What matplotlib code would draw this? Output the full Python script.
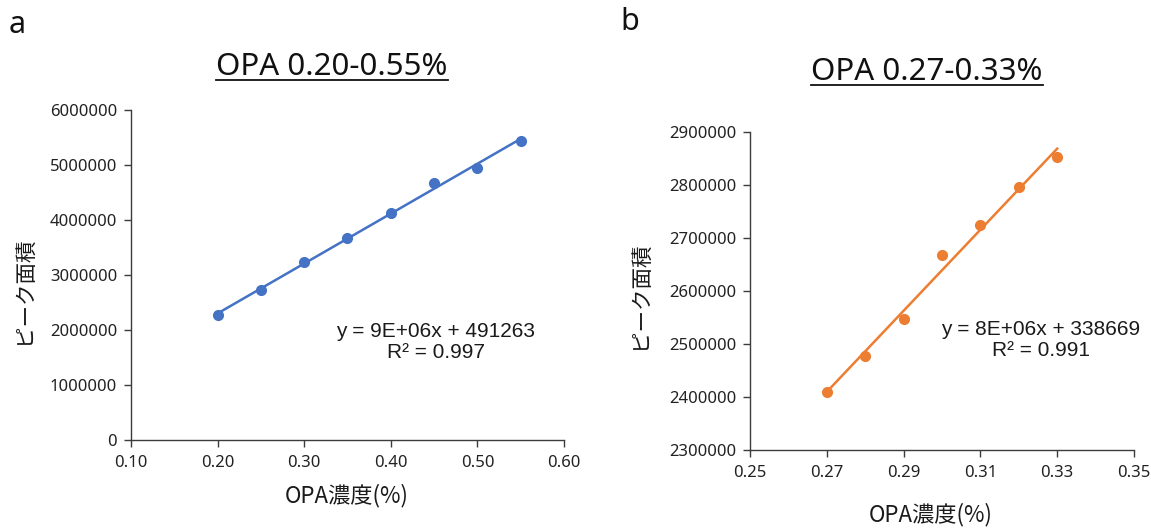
import numpy as np
import matplotlib
matplotlib.use("Agg")
import matplotlib.pyplot as plt
from matplotlib.lines import Line2D

plt.rcParams['font.family'] = ['Noto Sans CJK JP', 'DejaVu Sans']

# ---- data ----
x_a = [0.20, 0.25, 0.30, 0.35, 0.40, 0.45, 0.50, 0.55]
y_a = [2266000, 2727000, 3237000, 3679000, 4134000, 4681000, 4951000, 5436000]
x_b = [0.27, 0.28, 0.29, 0.30, 0.31, 0.32, 0.33]
y_b = [2409700, 2477300, 2547400, 2667300, 2724700, 2795500, 2852300]

title_a = "OPA 0.20-0.55%"
title_b = "OPA 0.27-0.33%"
eq_a = "y = 9E+06x + 491263\nR² = 0.997"
eq_b = "y = 8E+06x + 338669\nR² = 0.991"
xlabel = "OPA濃度(%)"
ylabel = "ピーク面積"
xticks_a = [0.10, 0.20, 0.30, 0.40, 0.50, 0.60]
yticks_a = [0, 1000000, 2000000, 3000000, 4000000, 5000000, 6000000]
xticks_b = [0.25, 0.27, 0.29, 0.31, 0.33, 0.35]
yticks_b = [2300000, 2400000, 2500000, 2600000, 2700000, 2800000, 2900000]

W, H = 1151, 529
fig = plt.figure(figsize=(W / 100, H / 100), dpi=100)
fig.patch.set_facecolor('white')

def fx(px):
    return px / W

def fy(py):
    return 1 - py / H

axis_col = '#3c3c3c'

def make_axes(rect, xs, ys, color, xticks, yticks, xlim, ylim, eq, eqpos):
    ax = fig.add_axes(rect)
    for s in ['top', 'right']:
        ax.spines[s].set_visible(False)
    for s in ['left', 'bottom']:
        ax.spines[s].set_color(axis_col)
        ax.spines[s].set_linewidth(1.0)
    ax.set_xlim(*xlim)
    ax.set_ylim(*ylim)
    ax.set_xticks(xticks)
    ax.set_yticks(yticks)
    ax.set_xticklabels([f"{v:.2f}" for v in xticks], family='Noto Sans')
    ax.set_yticklabels([f"{int(v)}" for v in yticks], family='Noto Sans')
    ax.tick_params(axis='both', direction='out', length=5, width=1.0,
                   color=axis_col, labelsize=12, labelcolor='#222222')
    ax.tick_params(axis='x', pad=6)
    ax.tick_params(axis='y', pad=5)
    # trendline
    k, b = np.polyfit(xs, ys, 1)
    xx = np.array([min(xs), max(xs)])
    ax.plot(xx, k * xx + b, color=color, lw=1.8, zorder=2)
    ax.plot(xs, ys, 'o', color=color, ms=7, zorder=3)
    ax.text(eqpos[0], eqpos[1], eq, transform=fig.transFigure, ha='center',
            va='center', fontsize=15, family='Liberation Sans',
            color='#1a1a1a', linespacing=1.1)
    return ax

ax_a = make_axes([fx(131), fy(440), fx(564 - 131), (440 - 110) / H],
                 x_a, y_a, '#4472C4', xticks_a, yticks_a,
                 (0.10, 0.60), (0, 6000000), eq_a, (fx(436), fy(342)))
ax_b = make_axes([fx(750), fy(450), fx(1134 - 750), (450 - 132) / H],
                 x_b, y_b, '#ED7D31', xticks_b, yticks_b,
                 (0.25, 0.35), (2300000, 2900000), eq_b, (fx(1041), fy(340)))

# axis labels
fig.text(fx(24), fy(290), ylabel, rotation=90, ha='center', va='center',
         fontsize=15.5, color='#1a1a1a')
fig.text(fx(640), fy(295), ylabel, rotation=90, ha='center', va='center',
         fontsize=15.5, color='#1a1a1a')
fig.text(fx(347), fy(496), xlabel, ha='center', va='center', fontsize=16,
         color='#1a1a1a')
fig.text(fx(931), fy(515), xlabel, ha='center', va='center', fontsize=16,
         color='#1a1a1a')

# panel labels
fig.text(fx(9), fy(25), 'a', ha='left', va='center', fontsize=22,
         family='Noto Sans', color='#111111')
fig.text(fx(620), fy(22), 'b', ha='left', va='center', fontsize=22,
         family='Noto Sans', color='#111111')

# titles with underline
titles = []
titles.append(fig.text(fx(332), fy(67), title_a, ha='center', va='center',
                       fontsize=22.5, family='Noto Sans', color='#111111'))
titles.append(fig.text(fx(927), fy(72), title_b, ha='center', va='center',
                       fontsize=22.5, family='Noto Sans', color='#111111'))
fig.canvas.draw()
r = fig.canvas.get_renderer()
ul_y = [80, 85]
for t, uy in zip(titles, ul_y):
    bb = t.get_window_extent(renderer=r)
    x0, x1 = bb.x0, bb.x1
    fig.add_artist(Line2D([x0 / W, x1 / W], [fy(uy), fy(uy)],
                          transform=fig.transFigure, color='#111111', lw=1.3))

fig.savefig('out.png', dpi=100, facecolor='white')
